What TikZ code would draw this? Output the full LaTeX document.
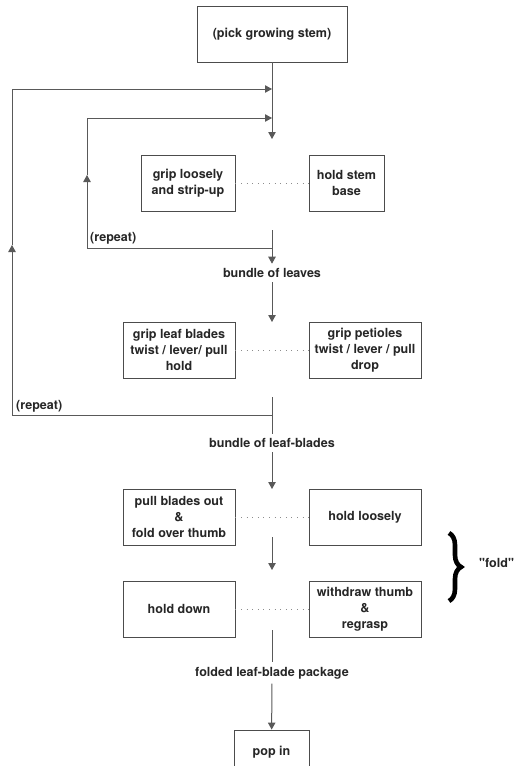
\documentclass[tikz,border=0pt]{standalone}
\usepackage{fontspec}
\newfontfamily\heros{TeX Gyre Heros}
\usetikzlibrary{arrows.meta,decorations.pathreplacing}

\tikzset{
  box/.style={draw=black!70, line width=0.9bp, fill=white, align=center, inner sep=2pt},
  lbl/.style={inner sep=4.5pt, align=center},
  line/.style={draw=black!65, line width=1bp},
  dots/.style={black!45, line width=0.9bp, dash pattern=on 1bp off 4.6bp},
}

\begin{document}
\begin{tikzpicture}[x=1bp, y=-1bp, >={Triangle[length=7bp,width=7.5bp]},
  every node/.style={font=\heros\bfseries\fontsize{12.6}{15.8}\selectfont, text=black!85}]
\useasboundingbox (0,0) rectangle (521,766);

\node[box, minimum width=150bp, minimum height=56bp] (pick) at (272,34) {(pick growing stem)};
\coordinate (j1) at (272,89);
\coordinate (j2) at (272,118);
\coordinate (a1) at (272,139);
\draw[line, ->] (pick) -- (a1);

\node[box, minimum width=94bp, minimum height=56bp] (grip) at (188,183) {grip loosely\\and strip-up};
\node[box, minimum width=75bp, minimum height=56bp] (stem) at (346.5,183) {hold stem\\base};
\draw[dots] (grip) -- (stem);

%inner loop
\coordinate (s1) at (272,230);
\coordinate (r1) at (272,248);
\coordinate (i1) at (87,248);
\coordinate (i2) at (87,175);
\coordinate (i3) at (87,118);
\node[lbl, anchor=west, inner sep=1pt] (rep1) at (89,238) {(repeat)};
\node[lbl] (leaves) at (272,273) {bundle of leaves};
\draw[line, ->] (s1) -- (leaves);
\draw[line, ->] (r1) -- (i1) -- (i2);
\draw[line, ->] (i2) -- (i3) -- (j2);
\coordinate (a2) at (272,322);
\draw[line, ->] (leaves) -- (a2);

\node[box, minimum width=112bp, minimum height=56bp] (blades) at (179,350) {grip leaf blades\\twist / lever/ pull\\hold};
\node[box, minimum width=112bp, minimum height=56bp] (petioles) at (365,350) {grip petioles\\twist / lever / pull\\drop};
\draw[dots] (blades) -- (petioles);

%outer loop
\coordinate (s2) at (272,397);
\coordinate (r2) at (272,415);
\coordinate (o1) at (12,415);
\coordinate (o2) at (12,245);
\coordinate (o3) at (12,89);
\node[lbl, anchor=west, inner sep=1pt] (rep2) at (15,406) {(repeat)};
\node[lbl] (leafblades) at (272,443) {bundle of leaf-blades};
\draw[line] (s2) -- (leafblades);
\draw[line, ->] (r2) -- (o1) -- (o2);
\draw[line, ->] (o2) -- (o3) -- (j1);
\coordinate (a3) at (272,489);
\draw[line, ->] (leafblades) -- (a3);

\node[box, minimum width=112bp, minimum height=56bp] (pull) at (179,517) {pull blades out\\\&\\fold over thumb};
\node[box, minimum width=112bp, minimum height=56bp] (loosely) at (365,517) {hold loosely};
\draw[dots] (pull) -- (loosely);
\coordinate (a4) at (272,537);
\coordinate (a5) at (272,570);
\draw[line, ->] (a4) -- (a5);

\node[box, minimum width=112bp, minimum height=56bp] (down) at (179,609) {hold down};
\node[box, minimum width=112bp, minimum height=56bp] (withdraw) at (365,609) {withdraw thumb\\\&\\regrasp};
\draw[dots] (down) -- (withdraw);

%fold brace
\coordinate (b1) at (449,533);
\coordinate (b2) at (449,601);
\draw[black, line width=4.6bp, decorate, decoration={brace, amplitude=12bp}] (b1) -- (b2);
\node[lbl, anchor=west, inner sep=1pt] (fold) at (478,563) {"fold"};

\coordinate (a6) at (272,630);
\node[lbl] (package) at (272,673) {folded leaf-blade package};
\draw[line] (a6) -- (package);
\node[box, minimum width=75bp, minimum height=44bp] (popin) at (271.5,752) {pop in};
\draw[line, ->] (package) -- (popin);
\end{tikzpicture}
\end{document}
